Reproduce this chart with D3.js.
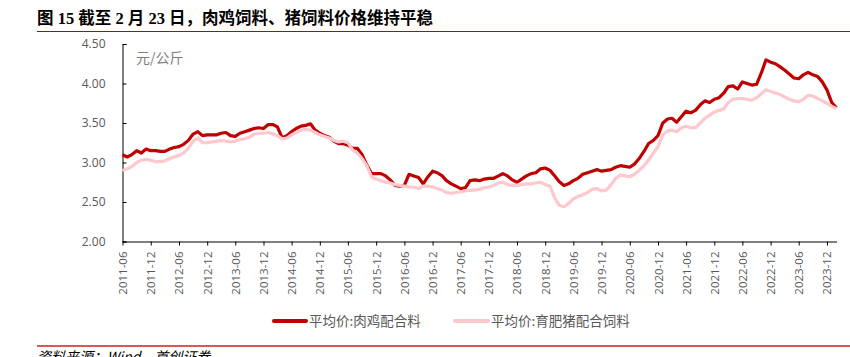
<!DOCTYPE html>
<html><head><meta charset="utf-8">
<script src="https://cdn.jsdelivr.net/npm/d3@7"></script>
<style>
body{margin:0;background:#fff;}
svg{display:block;}
</style></head>
<body>
<svg id="chart" width="850" height="357"></svg>
<script>
// ---- data (monthly, starting 2011-06) ----
const startMonth = "2011-06";
const broilerFeed = [3.10,3.07,3.10,3.15,3.12,3.17,3.15,3.15,3.14,3.14,3.17,3.19,3.20,3.23,3.28,3.36,3.39,3.34,3.35,3.35,
3.35,3.37,3.38,3.34,3.33,3.37,3.39,3.41,3.43,3.44,3.43,3.48,3.48,3.45,3.31,3.34,3.39,3.43,3.46,3.47,
3.49,3.41,3.37,3.34,3.32,3.27,3.24,3.24,3.22,3.18,3.18,3.10,2.97,2.86,2.86,2.86,2.83,2.78,2.71,2.70,
2.71,2.85,2.83,2.81,2.73,2.82,2.89,2.87,2.83,2.77,2.73,2.70,2.67,2.68,2.77,2.78,2.77,2.79,2.80,2.80,
2.83,2.86,2.83,2.78,2.75,2.79,2.83,2.86,2.87,2.92,2.93,2.90,2.83,2.76,2.71,2.73,2.77,2.80,2.85,2.87,
2.89,2.91,2.89,2.90,2.91,2.94,2.96,2.95,2.94,2.98,3.05,3.14,3.24,3.28,3.34,3.50,3.55,3.56,3.51,3.58,
3.65,3.63,3.66,3.73,3.78,3.76,3.80,3.82,3.88,3.96,3.97,3.93,4.02,4.00,3.98,3.99,4.13,4.30,4.27,4.25,
4.21,4.17,4.12,4.07,4.06,4.11,4.14,4.11,4.09,4.02,3.92,3.76,3.69];
const pigFeed = [2.90,2.92,2.95,3.00,3.03,3.04,3.03,3.01,3.01,3.02,3.05,3.07,3.09,3.12,3.18,3.27,3.31,3.25,3.25,3.26,
3.27,3.28,3.27,3.26,3.27,3.29,3.30,3.32,3.36,3.37,3.37,3.38,3.36,3.34,3.30,3.31,3.35,3.38,3.41,3.42,
3.41,3.38,3.35,3.33,3.31,3.28,3.26,3.27,3.25,3.16,3.12,3.05,2.96,2.82,2.79,2.77,2.75,2.74,2.72,2.71,
2.70,2.69,2.69,2.67,2.70,2.70,2.69,2.67,2.65,2.62,2.61,2.62,2.63,2.64,2.65,2.65,2.66,2.68,2.69,2.71,
2.74,2.75,2.72,2.71,2.71,2.72,2.73,2.73,2.74,2.75,2.72,2.70,2.55,2.46,2.44,2.48,2.54,2.57,2.59,2.62,
2.66,2.67,2.64,2.65,2.72,2.80,2.84,2.83,2.82,2.85,2.90,2.96,3.03,3.12,3.20,3.35,3.40,3.41,3.39,3.44,
3.46,3.44,3.44,3.50,3.56,3.60,3.64,3.66,3.68,3.76,3.80,3.81,3.81,3.80,3.79,3.82,3.87,3.92,3.90,3.88,
3.86,3.83,3.80,3.78,3.77,3.80,3.85,3.84,3.81,3.78,3.75,3.71,3.68];
const yTicks = [2.00,2.50,3.00,3.50,4.00,4.50];
const xTickLabels = ["2011-06","2011-12","2012-06","2012-12","2013-06","2013-12","2014-06","2014-12","2015-06","2015-12",
"2016-06","2016-12","2017-06","2017-12","2018-06","2018-12","2019-06","2019-12","2020-06","2020-12",
"2021-06","2021-12","2022-06","2022-12","2023-06","2023-12"];
const seriesNames = ["平均价:肉鸡配合料","平均价:育肥猪配合饲料"];
const titleText = "图 15 截至 2 月 23 日，肉鸡饲料、猪饲料价格维持平稳";
const unitText = "元/公斤";
const sourceText = "资料来源：Wind，首创证券";

// ---- build ----
const parse = d3.timeParse("%Y-%m");
const t0 = parse(startMonth);
const dates = broilerFeed.map((_, i) => d3.timeMonth.offset(t0, i));
const svg = d3.select("#chart");

const x = d3.scaleTime().domain([t0, dates[dates.length - 1]]).range([122.5, 836.5]);
const y = d3.scaleLinear().domain([2, 4.5]).range([241.5, 44]);

// title
svg.append("text").attr("x", 37).attr("y", 24)
  .attr("font-family", "'Liberation Serif','Noto Sans CJK SC',serif")
  .attr("font-weight", "bold").attr("font-size", 16.5).attr("fill", "#000")
  .text(titleText);
svg.append("line").attr("x1", 37).attr("x2", 850).attr("y1", 31.5).attr("y2", 31.5)
  .attr("stroke", "#C00000").attr("stroke-width", 1.2);

// y axis
const yAxis = d3.axisLeft(y).tickValues(yTicks).tickFormat(d3.format(".2f")).tickSizeInner(-4).tickSizeOuter(-4).tickPadding(17);
const gy = svg.append("g").attr("transform", "translate(122.5,0)").call(yAxis);
gy.select(".domain").attr("stroke", "#000");
gy.selectAll(".tick line").attr("stroke", "#000");
gy.selectAll("text").attr("font-family", "'Open Sans',sans-serif").attr("font-size", 12).attr("fill", "#595959");

// x axis
const xAxis = d3.axisBottom(x).tickValues(xTickLabels.map(parse)).tickFormat(d3.timeFormat("%Y-%m")).tickSizeInner(4).tickSizeOuter(0);
const gx = svg.append("g").attr("transform", "translate(0,241.5)").call(xAxis);
gx.select(".domain").attr("stroke", "#000");
gx.selectAll(".tick line").attr("stroke", "#000");
gx.selectAll("text")
  .attr("font-family", "'Open Sans',sans-serif").attr("font-size", 11.5).attr("fill", "#595959")
  .attr("text-anchor", "end").attr("dy", null).attr("y", 0)
  .attr("transform", "translate(4,10) rotate(-90)");

// unit
svg.append("text").attr("x", 136).attr("y", 63).attr("font-family", "'Noto Sans CJK SC',sans-serif")
  .attr("font-size", 14).attr("fill", "#7f7f7f").text(unitText);

// lines
const line = arr => d3.line().x((d, i) => x(dates[i])).y(d => y(d))(arr);
svg.append("path").attr("d", line(broilerFeed)).attr("fill", "none")
  .attr("stroke", "#C00000").attr("stroke-width", 3.2).attr("stroke-linejoin", "round");
svg.append("path").attr("d", line(pigFeed)).attr("fill", "none")
  .attr("stroke", "#FFC7CE").attr("stroke-width", 3.2).attr("stroke-linejoin", "round");

// legend
const legend = [
  {name: seriesNames[0], color: "#C00000", x1: 274, x2: 306, tx: 309},
  {name: seriesNames[1], color: "#FFC7CE", x1: 455, x2: 488, tx: 491}
];
legend.forEach(l => {
  svg.append("line").attr("x1", l.x1).attr("x2", l.x2).attr("y1", 321).attr("y2", 321)
    .attr("stroke", l.color).attr("stroke-width", 4).attr("stroke-linecap", "round");
  svg.append("text").attr("x", l.tx).attr("y", 326).attr("font-family", "'Noto Sans CJK SC',sans-serif")
    .attr("font-size", 13.5).attr("fill", "#595959").text(l.name);
});

// bottom rule and source
svg.append("line").attr("x1", 37).attr("x2", 850).attr("y1", 346).attr("y2", 346)
  .attr("stroke", "#D02020").attr("stroke-width", 1.6);
svg.append("text").attr("x", 37).attr("y", 362).attr("font-family", "'Noto Sans CJK SC',sans-serif")
  .attr("font-style", "italic").attr("font-size", 14).attr("fill", "#000").text(sourceText);
</script>
</body></html>
